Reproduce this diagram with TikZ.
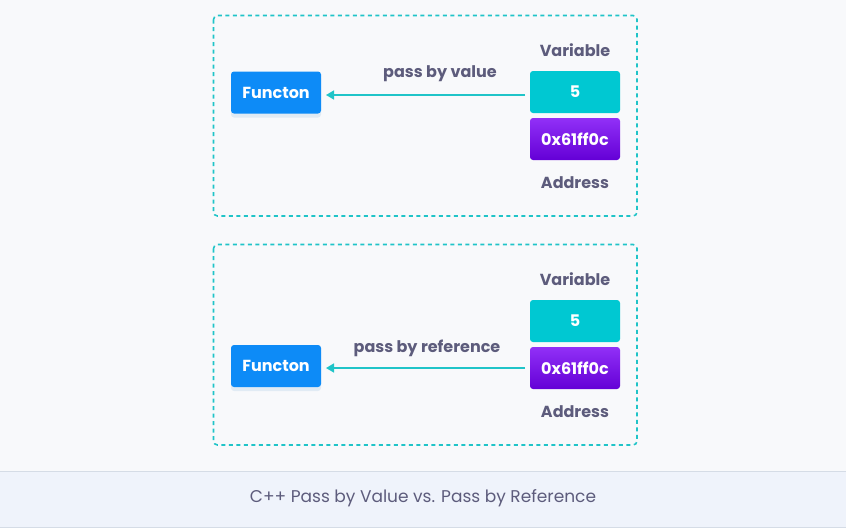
\documentclass[tikz,border=0pt]{standalone}
\usepackage{fontspec}
\setmainfont{Poppins}
\usetikzlibrary{arrows.meta,shadows}
\definecolor{bg}{HTML}{F8F9FB}
\definecolor{capbg}{HTML}{EFF3FB}
\definecolor{capline}{HTML}{D5DCE6}
\definecolor{teal}{HTML}{20C4C8}
\definecolor{fnblue}{HTML}{0D8BF7}
\definecolor{valteal}{HTML}{00C8D2}
\definecolor{purpA}{HTML}{9130F7}
\definecolor{purpB}{HTML}{6400D6}
\definecolor{txt}{HTML}{5D5C7C}
\tikzset{
  frame/.style={draw=teal, line width=1.6pt, dash pattern=on 4pt off 3.5pt, rounded corners=4pt},
  fnbox/.style={fill=fnblue, rounded corners=3pt, minimum width=90pt, minimum height=42pt, text=white, font=\fontsize{16}{19}\selectfont\bfseries, inner sep=0pt,
    drop shadow={shadow xshift=0pt, shadow yshift=-4pt, opacity=0.12, fill=fnblue!60!gray}},
  valbox/.style={fill=valteal, rounded corners=3pt, minimum width=90pt, minimum height=42pt, text=white, font=\fontsize{16}{19}\selectfont\bfseries, inner sep=0pt},
  addrbox/.style={top color=purpA, bottom color=purpB, rounded corners=3pt, minimum width=90pt, minimum height=42pt, text=white, font=\fontsize{16}{19}\selectfont\bfseries, inner sep=0pt},
  lbl/.style={text=txt, font=\fontsize{16}{19}\selectfont\bfseries, inner sep=0pt},
  conn/.style={draw=teal, line width=1.6pt, -{Triangle[length=8pt,width=9pt]}},
}
\begin{document}
\begin{tikzpicture}[x=1pt,y=-1pt]
\fill[bg] (0,0) rectangle (846,528);
\useasboundingbox (0,0) rectangle (846,528);
\fill[capbg] (0,471) rectangle (846,528);
\draw[capline, line width=1pt] (0,471) -- (846,471);
\draw[capline, line width=1pt] (0,527) -- (846,527);
\node[text=txt, font=\fontsize{17}{20}\selectfont, inner sep=0pt] (cap) at (423,498) {C++ Pass by Value vs. Pass by Reference};

% box 1
\draw[frame] (213.5,15.5) rectangle (637,216);
\node[fnbox] (f1) at (276,92.5) {Functon};
\node[valbox] (v1) at (575,92) {5};
\node[addrbox] (a1) at (575,139) {0x61ff0c};
\node[lbl] (var1) at (575,50) {Variable};
\node[lbl] (ad1) at (575,183) {Address};
\node[lbl] (pv) at (440,74) {pass by value};
\coordinate (s1) at (525,95);
\coordinate (e1) at (326,95);
\draw[conn] (s1) -- (e1);

% box 2
\draw[frame] (213.5,244.5) rectangle (637,445);
\node[fnbox] (f2) at (276,366) {Functon};
\node[valbox] (v2) at (575,321) {5};
\node[addrbox] (a2) at (575,368) {0x61ff0c};
\node[lbl] (var2) at (575,279) {Variable};
\node[lbl] (ad2) at (575,412) {Address};
\node[lbl] (pr) at (427,348) {pass by reference};
\coordinate (s2) at (525,368);
\coordinate (e2) at (326,368);
\draw[conn] (s2) -- (e2);
\end{tikzpicture}
\end{document}
